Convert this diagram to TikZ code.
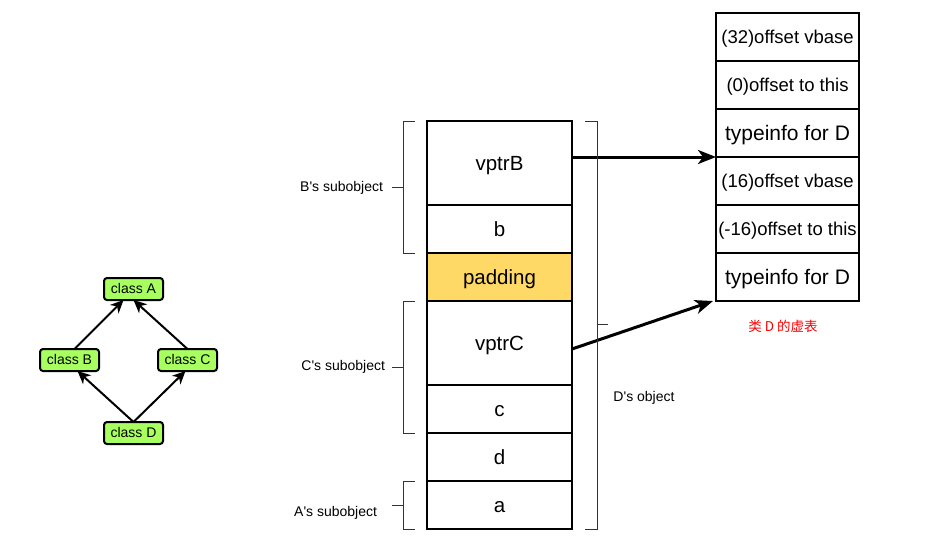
\documentclass[tikz,border=0pt]{standalone}
\usepackage{fontspec}
\setmainfont{Liberation Sans}
\newfontfamily\cjk{Noto Sans CJK SC}
\usetikzlibrary{arrows.meta}
\definecolor{classgreen}{HTML}{A8FF60}
\definecolor{padyellow}{HTML}{FFD966}
\definecolor{bracketgray}{HTML}{333333}
\newcommand{\sq}{\textquotesingle}
\begin{document}
\begin{tikzpicture}[x=1pt,y=-1pt,line width=2pt,
    inner sep=0pt,outer sep=0pt,
    cell/.style={draw,anchor=north west,minimum width=145pt,
      font=\fontsize{20.5}{24}\selectfont,text height=18.6pt,text depth=4.3pt},
    vtcell/.style={draw,anchor=north west,minimum width=143pt,
      minimum height=48pt,font=\fontsize{18.5}{22}\selectfont,
      text height=16.7pt,text depth=3.9pt},
    classbox/.style={draw,fill=classgreen,rounded corners=3pt,
      minimum width=59pt,minimum height=22pt,
      font=\fontsize{14}{16}\selectfont,text height=12.7pt,text depth=3pt},
    inherit/.style={-{Stealth[length=13pt,width=12pt,inset=4pt]}},
    pointer/.style={line width=3pt,-{Stealth[length=18pt,width=14pt,inset=5pt]}},
    brace/.style={draw=bracketgray,line width=1pt},
    bracelabel/.style={font=\fontsize{14}{17}\selectfont,
      text height=12.7pt,text depth=3pt}]
    \path[use as bounding box] (0,0) rectangle (925,542);
    % class hierarchy
    \node[classbox] (clsA) at (133.5,289) {class A};
    \node[classbox] (clsB) at (69.5,360) {class B};
    \node[classbox] (clsC) at (187.5,360) {class C};
    \node[classbox] (clsD) at (133.5,433) {class D};
    \draw[inherit] ([xshift=5pt]clsB.north) -- ([xshift=-10pt]clsA.south);
    \draw[inherit] (clsC.north) -- (clsA.south);
    \draw[inherit] (clsD.north) -- ([xshift=8pt]clsB.south);
    \draw[inherit] (clsD.north) -- ([xshift=-2pt]clsC.south);
    % layout of D's object
    \foreach \name/\y/\h/\txt in {mB/121/84/vptrB,mb/205/48/b,mpad/253/48/padding,
      mC/301/84/vptrC,mc/385/48/c,md/433/48/d,ma/481/48/a}
      \node[cell,minimum height=\h pt] (\name) at (427,\y) {\txt};
    \node[cell,minimum height=48pt,fill=padyellow] at (427,253) {padding};
    % vtable of D
    \foreach \i/\y/\txt in {1/13/{(32)offset vbase},2/61/{(0)offset to this},
      4/157/{(16)offset vbase},5/205/{(-16)offset to this}}
      \node[vtcell] (vt\i) at (716,\y) {\txt};
    \foreach \i/\y in {3/109,6/253}
      \node[vtcell,font=\fontsize{21}{25}\selectfont,text height=19pt,
        text depth=4.5pt] (vt\i) at (716,\y) {typeinfo for D};
    \node[text=red,font=\cjk\fontsize{13.5}{16}\selectfont] (vtlabel) at (783,326) {类 D 的虚表};
    \draw[pointer] (mB.east |- vt3.south west) -- (vt3.south west);
    \draw[pointer] ([yshift=-6pt]mC.east) -- ([xshift=-3pt]vt6.south west);
    % subobject brackets
    \foreach \top/\bot/\mid/\lx/\ly/\lbl in {121/253/187/383/187/{B\sq s subobject},
      301/433/367/385/366/{C\sq s subobject},481/529/505/377/512/{A\sq s subobject}} {
      \draw[brace] (415,\top) -- (403,\top) -- (403,\bot) -- (415,\bot);
      \draw[brace] (392,\mid) -- (403,\mid);
      \node[bracelabel,anchor=east] at (\lx,\ly) {\lbl};
    }
    \draw[brace] (585,121) -- (597,121) -- (597,529) -- (585,529);
    \draw[brace] (597,324) -- (608,324);
    \node[bracelabel] (objlabel) at (644,397) {D\sq s object};
  \end{tikzpicture}
\end{document}
